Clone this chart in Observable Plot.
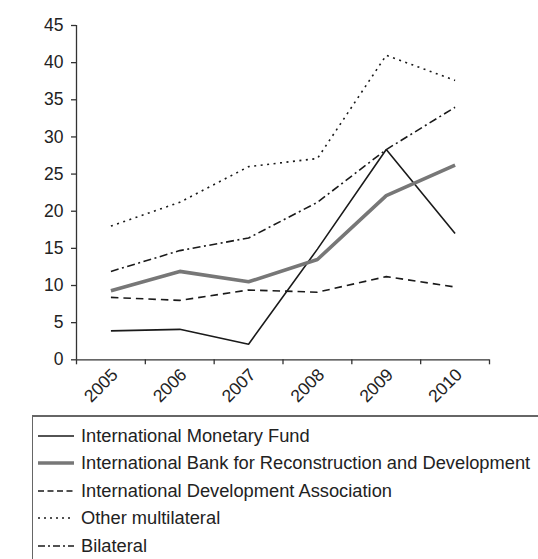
<!DOCTYPE html>
<html>
<head>
<meta charset="utf-8">
<script src="https://cdn.jsdelivr.net/npm/d3@7"></script>
<script src="https://cdn.jsdelivr.net/npm/@observablehq/plot@0.6"></script>
<style>
  html, body { margin: 0; padding: 0; background: #fff; overflow: hidden; }
  body { font-family: "Liberation Sans", Arial, sans-serif; color: #222; width: 538px; height: 559px; position: relative; }
  #chart svg { display: block; }
  #chart svg text { font-family: "Liberation Sans", Arial, sans-serif; font-size: 17.5px; fill: #222; }
  #legend { position: absolute; left: 32px; top: 415px; width: 560px; height: 200px;
    border-top: 2px solid #666; border-left: 1.5px solid #666; box-sizing: border-box; padding-top: 5px; }
  .row { display: flex; align-items: center; height: 27.5px; font-size: 18.3px; }
  .row svg { margin-left: 5px; margin-right: 7px; flex: none; }
</style>
</head>
<body>
<div id="chart"></div>
<div id="legend"></div>
<script>
const years = [2005, 2006, 2007, 2008, 2009, 2010];
const seriesNames = [
  "International Monetary Fund",
  "International Bank for Reconstruction and Development",
  "International Development Association",
  "Other multilateral",
  "Bilateral"
];
const imf        = [3.9, 4.1, 2.1, 14.9, 28.3, 17.0];
const ibrd       = [9.3, 11.9, 10.5, 13.5, 22.1, 26.2];
const ida        = [8.4, 8.0, 9.4, 9.1, 11.2, 9.8];
const otherMulti = [18.0, 21.2, 26.0, 27.1, 41.0, 37.6];
const bilateral  = [11.9, 14.7, 16.4, 21.2, 28.3, 34.0];
const yTicks = [0, 5, 10, 15, 20, 25, 30, 35, 40, 45];

const seriesValues = [imf, ibrd, ida, otherMulti, bilateral];
const styles = [
  {stroke: "#1a1a1a", strokeWidth: 1.6, dash: null},
  {stroke: "#777777", strokeWidth: 3.6, dash: null},
  {stroke: "#1a1a1a", strokeWidth: 1.6, dash: "7.5,5"},
  {stroke: "#1a1a1a", strokeWidth: 1.6, dash: "2,4.5"},
  {stroke: "#1a1a1a", strokeWidth: 1.6, dash: "8,3.5,2,3.5"}
];
const table = seriesNames.flatMap((name, i) =>
  years.map((yr, j) => ({series: name, year: yr, value: seriesValues[i][j]})));

const boundaries = d3.range(years[0] - 0.5, years[years.length - 1] + 1, 1);

const chart = Plot.plot({
  width: 538,
  height: 415,
  marginLeft: 76,
  marginRight: 49,
  marginTop: 25,
  marginBottom: 55.7,
  style: "font-family: 'Liberation Sans', Arial, sans-serif; font-size: 17.5px; color: #222; background: #fff;",
  x: {type: "linear", domain: [years[0] - 0.5, years[years.length - 1] + 0.5]},
  y: {domain: [0, 45]},
  marks: [
    Plot.ruleY([0], {stroke: "#333", strokeWidth: 1.3}),
    Plot.ruleX([years[0] - 0.5], {y1: 0, y2: 45, stroke: "#333", strokeWidth: 1.3}),
    Plot.axisY({ticks: yTicks, tickSize: 5, tickPadding: 8, label: null, stroke: "#333", strokeWidth: 1.3}),
    Plot.axisX({ticks: boundaries, tickSize: 5, tickFormat: () => "", label: null, stroke: "#333", strokeWidth: 1.3}),
    Plot.axisX({ticks: years, tickSize: 0, tickFormat: d => String(d), tickRotate: -45, tickPadding: 12, dx: 4, label: null}),
    ...seriesNames.map((name, i) => Plot.line(table.filter(d => d.series === name), {
      x: "year", y: "value",
      stroke: styles[i].stroke, strokeWidth: styles[i].strokeWidth,
      strokeDasharray: styles[i].dash, strokeLinejoin: "miter", strokeLinecap: "butt"
    }))
  ]
});
document.getElementById("chart").appendChild(chart);

const legend = document.getElementById("legend");
seriesNames.forEach((name, i) => {
  const row = document.createElement("div");
  row.className = "row";
  const s = styles[i];
  const legendDash = [null, null, "6,3.5", "2,4", "7,3,2,3"][i];
  row.innerHTML = `<svg width="36" height="10"><line x1="0" x2="36" y1="5" y2="5" stroke="${s.stroke}" stroke-width="${s.strokeWidth}" ${legendDash ? `stroke-dasharray="${legendDash}"` : ""}/></svg><span>${name}</span>`;
  legend.appendChild(row);
});
</script>
</body>
</html>
